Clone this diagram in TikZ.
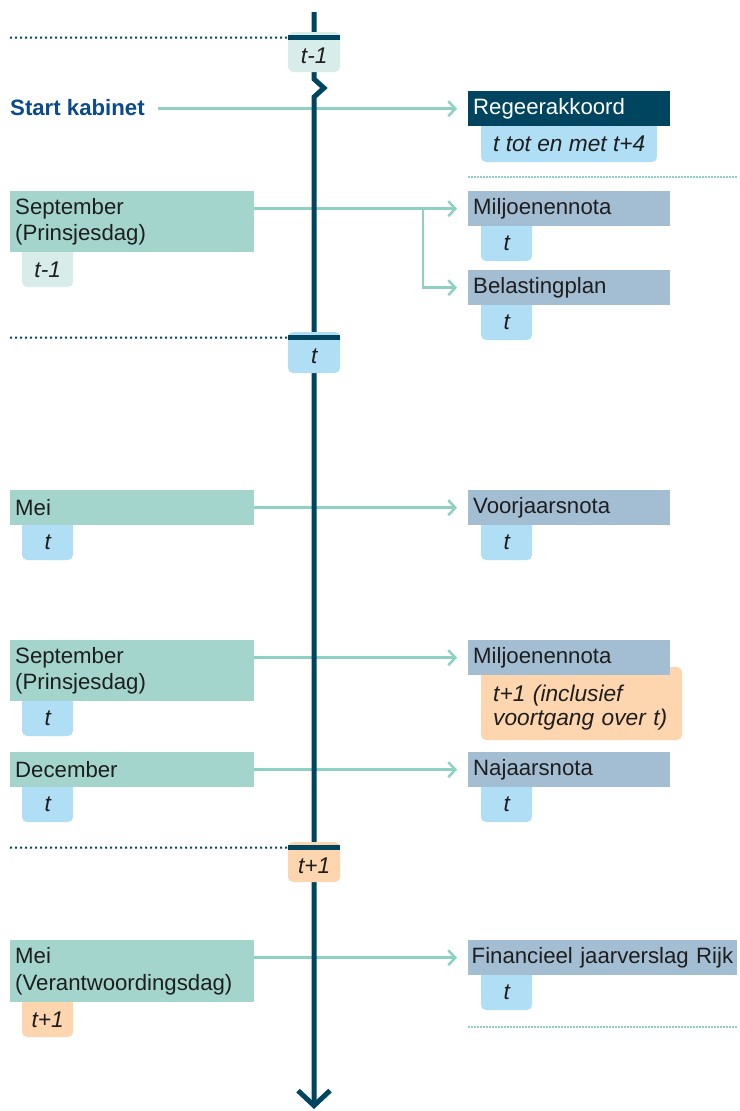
\documentclass[tikz,border=0pt]{standalone}
\usepackage{fontspec}
\setmainfont{Liberation Sans}
\usetikzlibrary{arrows.meta}
\definecolor{navy}{HTML}{00455F}
\definecolor{mintline}{HTML}{8ED1C4}
\definecolor{mintbox}{HTML}{A3D5CD}
\definecolor{minttag}{HTML}{D8EDE9}
\definecolor{bluetag}{HTML}{B0DEF5}
\definecolor{greybox}{HTML}{A3BED2}
\definecolor{peach}{HTML}{FDD5AE}
\definecolor{skblue}{HTML}{0B4A8C}
\definecolor{txt}{HTML}{1E1E1E}
\newcommand\boxfont{\fontsize{22.2}{26.5}\selectfont}
\newcommand\tagfont{\fontsize{22.7}{24}\selectfont\itshape}
\newcommand\tagbg[5]{\fill[#5,rounded corners=5pt] (#1,{#2-8}) rectangle ({#1+#3},{#2+#4});}
\begin{document}
\begin{tikzpicture}[x=1pt,y=-1pt,
 lbox/.style={anchor=north west, fill=mintbox, text=txt, font=\boxfont, inner xsep=5pt, inner ysep=0pt, text width=234pt, align=left},
 rbox/.style={anchor=north west, fill=greybox, text=txt, font=\boxfont, inner xsep=5pt, inner ysep=0pt, text width=192pt, align=left, minimum height=35pt},
 tagtext/.style={anchor=north west, inner sep=0pt, font=\tagfont, text=txt, minimum height=35pt},
 conn/.style={draw=mintline, line width=2.5pt, -{Straight Barb[length=7pt,width=15pt]}, shorten >=11pt},
 dotnavy/.style={draw=navy, line width=2pt, dash pattern=on 2pt off 3pt},
 dotmint/.style={draw=mintline, line width=1.5pt, dash pattern=on 1.5pt off 1.5pt},
 tickbar/.style={fill=navy, minimum width=52pt, minimum height=5pt, inner sep=0pt, anchor=north west},
]
\fill[white] (0,0) rectangle (739,1111);
\useasboundingbox (0,0) rectangle (739,1111);

% ---------- tags below left boxes
\tagbg{22}{252}{51}{35}{minttag}
\node[tagtext, minimum width=51pt] (tgSep1) at (22,252) {t-1};
\tagbg{22}{525}{51}{35}{bluetag}
\node[tagtext, minimum width=51pt] (tgMei1) at (22,525) {t};
\tagbg{22}{701}{51}{35}{bluetag}
\node[tagtext, minimum width=51pt] (tgSep2) at (22,701) {t};
\tagbg{22}{787}{51}{35}{bluetag}
\node[tagtext, minimum width=51pt] (tgDec) at (22,787) {t};
\tagbg{22}{1002}{51}{35}{peach}
\node[tagtext, minimum width=51pt] (tgMei2) at (22,1002) {t+1};

% ---------- tags below right boxes
\tagbg{481}{126}{176}{36}{bluetag}
\node[tagtext, minimum width=176pt, minimum height=36pt] (tgReg) at (481,126) {t tot en met t+4};
\tagbg{481}{226}{51}{35}{bluetag}
\node[tagtext, minimum width=51pt] (tgMilj1) at (481,226) {t};
\tagbg{481}{305}{51}{35}{bluetag}
\node[tagtext, minimum width=51pt] (tgBel) at (481,305) {t};
\tagbg{481}{525}{51}{35}{bluetag}
\node[tagtext, minimum width=51pt] (tgVoor) at (481,525) {t};
\tagbg{481}{675}{201}{65}{peach}
\node[tagtext, inner xsep=12pt, text width=177pt, align=left, minimum height=65pt] (tgMilj2) at (481,675) {t+1 (inclusief\\voortgang over t)};
\tagbg{481}{787}{51}{35}{bluetag}
\node[tagtext, minimum width=51pt] (tgNaj) at (481,787) {t};
\tagbg{481}{975}{51}{35}{bluetag}
\node[tagtext, minimum width=51pt] (tgFin) at (481,975) {t};

% ---------- left boxes
\node[anchor=west, inner sep=0pt, font=\boxfont\bfseries, text=skblue] (sk) at (10,108) {Start kabinet};
\node[lbox, minimum height=61pt] (sep1) at (10,191) {September\\(Prinsjesdag)};
\node[lbox, minimum height=35pt] (mei1) at (10,490) {Mei};
\node[lbox, minimum height=61pt] (sep2) at (10,640) {September\\(Prinsjesdag)};
\node[lbox, minimum height=35pt] (dec) at (10,752) {December};
\node[lbox, minimum height=62pt] (mei2) at (10,940) {Mei\\(Verantwoordingsdag)};

% ---------- right boxes
\node[rbox, fill=navy, text=white] (regeer) at (468,91) {Regeerakkoord};
\node[rbox] (milj1) at (468,191) {Miljoenennota};
\node[rbox] (belast) at (468,270) {Belastingplan};
\node[rbox] (voorj) at (468,490) {Voorjaarsnota};
\node[rbox] (milj2) at (468,640) {Miljoenennota};
\node[rbox] (najaar) at (468,752) {Najaarsnota};
\node[rbox, text width=262pt, inner xsep=3.5pt] (fin) at (468,940) {Financieel jaarverslag Rijk};

% ---------- mint dotted separators
\coordinate (m1a) at (468,177);
\coordinate (m1b) at (737,177);
\draw[dotmint] (m1a) -- (m1b);
\coordinate (m2a) at (468,1027);
\coordinate (m2b) at (737,1027);
\draw[dotmint] (m2a) -- (m2b);

% ---------- connectors
\draw[conn, shorten <=13pt] (sk.east |- regeer.west) -- (regeer.west);
\draw[conn] (sep1.east |- milj1.west) -- (milj1.west);
\path (milj1.west) ++(-45,0) coordinate (br);
\draw[conn] (br) |- (belast.west);
\draw[conn] (mei1.east |- voorj.west) -- (voorj.west);
\draw[conn] (sep2.east |- milj2.west) -- (milj2.west);
\draw[conn] (dec.east |- najaar.west) -- (najaar.west);
\draw[conn] (mei2.east |- fin.west) -- (fin.west);

% ---------- timeline
\coordinate (tlTop) at (314,12);
\coordinate (z1) at (314,79);
\coordinate (z2) at (324,88);
\coordinate (z3) at (314,97);
\coordinate (tlEnd) at (314,1109);
\draw[navy, line width=5pt, -{Straight Barb[length=15pt,width=32pt]}] (tlTop) -- (z1) -- (z2) -- (z3) -- (tlEnd);

% ---------- ticks
\tagbg{288}{40}{52}{32}{minttag}
\node[tagtext, minimum width=52pt, minimum height=32pt] (tk1) at (288,40) {t-1};
\node[tickbar] (bar1) at (288,35) {};
\tagbg{288}{340}{52}{33}{bluetag}
\node[tagtext, minimum width=52pt, minimum height=33pt] (tk2) at (288,340) {t};
\node[tickbar] (bar2) at (288,335) {};
\tagbg{288}{850}{52}{32}{peach}
\node[tagtext, minimum width=52pt, minimum height=32pt] (tk3) at (288,850) {t+1};
\node[tickbar] (bar3) at (288,845) {};

\coordinate (d1) at (10,37.5);
\draw[dotnavy] (d1) -- (bar1.west);
\coordinate (d2) at (10,337.5);
\draw[dotnavy] (d2) -- (bar2.west);
\coordinate (d3) at (10,847.5);
\draw[dotnavy] (d3) -- (bar3.west);
\end{tikzpicture}
\end{document}
